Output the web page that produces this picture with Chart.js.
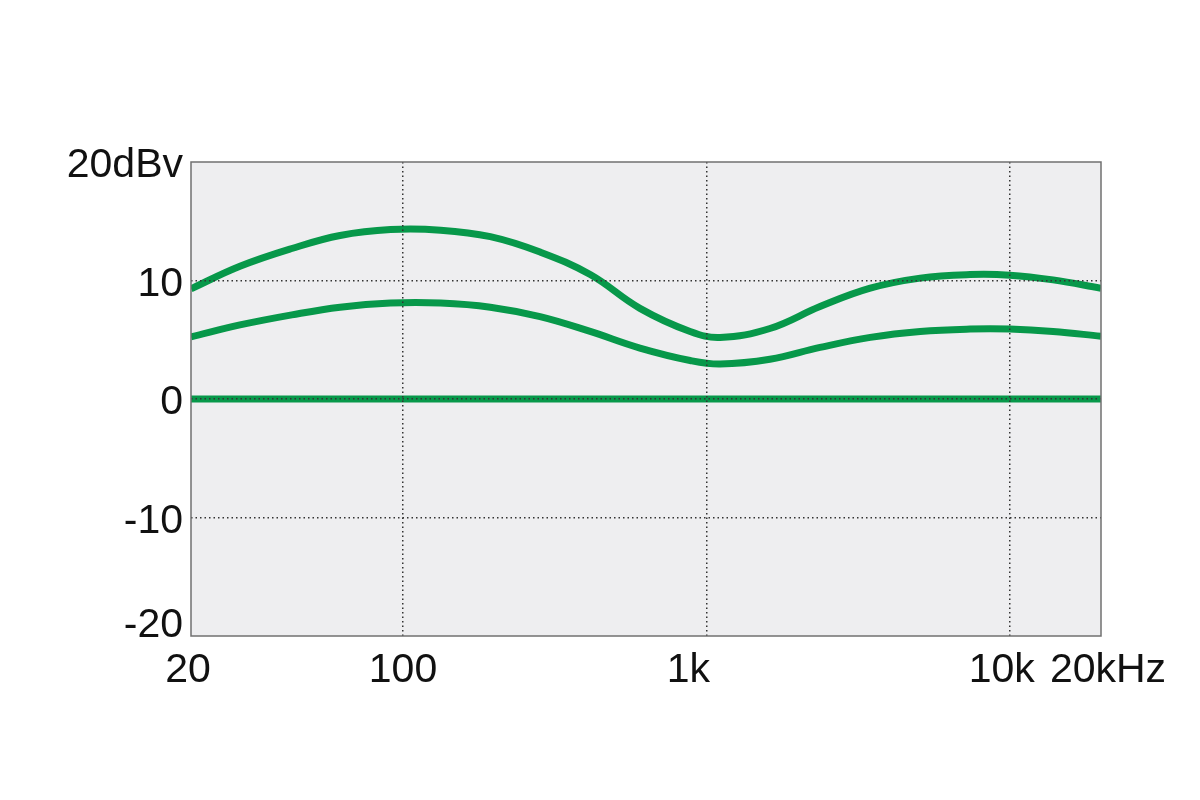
<!DOCTYPE html>
<html>
<head>
<meta charset="utf-8">
<title>Frequency response</title>
<script src="https://cdn.jsdelivr.net/npm/chart.js@4/dist/chart.umd.min.js"></script>
<style>
  html, body { margin: 0; padding: 0; background: #fff; }
  #wrap { width: 1200px; height: 800px; }
</style>
</head>
<body>
<div id="wrap"><canvas id="myChart" width="1200" height="800"></canvas></div>
<script>
const freqs = [20, 29, 43, 62, 91, 133, 194, 283, 414, 604, 884, 1110, 1620, 2370, 3470, 5070, 7400, 10000, 13900, 20000];
const upper = [9.3, 11.2, 12.7, 13.8, 14.3, 14.25, 13.7, 12.4, 10.5, 7.65, 5.7, 5.2, 5.95, 7.8, 9.35, 10.2, 10.5, 10.45, 10.05, 9.35];
const lower = [5.25, 6.25, 7.1, 7.75, 8.1, 8.1, 7.75, 6.95, 5.7, 4.3, 3.25, 2.95, 3.35, 4.35, 5.2, 5.7, 5.9, 5.9, 5.7, 5.3];
const flatFreqs = [20, 20000];
const flat = [0, 0];

const xTicks = [20, 100, 1000, 10000, 20000];
const xLabels = ["20", "100", "1k", "10k", "20kHz"];
const yTicks = [-20, -10, 0, 10, 20];
const yLabels = ["-20", "-10", "0", "10", "20dBv"];

// small nudges of the tick labels, in px (styling only)
const xNudge = { "20": -3, "1k": -18, "10k": -8, "20kHz": 7 };
const yNudge = { "-20": -14 };

const green = "#07984a";
const labelFont = { family: "'Liberation Sans', Arial, Helvetica, sans-serif", size: 41 };

function toPoints(xs, ys) {
  return xs.map((x, i) => ({ x, y: ys[i] }));
}

// light panel behind the plot and a thin frame round it
const panel = {
  id: "panel",
  beforeDraw(chart) {
    const { ctx, chartArea: a } = chart;
    ctx.save();
    ctx.fillStyle = "#eeeef0";
    ctx.fillRect(a.left, a.top, a.right - a.left, a.bottom - a.top);
    ctx.restore();

    chart.scales.x.getLabelItems(a).forEach((item) => {
      const dx = xNudge[item.label];
      if (dx && !item.nudged) { item.options.translation[0] += dx; item.nudged = true; }
    });
    chart.scales.y.getLabelItems(a).forEach((item) => {
      const dy = yNudge[item.label];
      if (dy && !item.nudged) { item.options.translation[1] += dy; item.nudged = true; }
    });
  },
  afterDraw(chart) {
    const { ctx, chartArea: a } = chart;
    ctx.save();
    ctx.strokeStyle = "#707070";
    ctx.lineWidth = 1.5;
    ctx.strokeRect(a.left, a.top, a.right - a.left, a.bottom - a.top);
    ctx.restore();
  }
};

function line(data) {
  return {
    data,
    borderColor: green,
    borderWidth: 7,
    pointRadius: 0,
    fill: false,
    tension: 0.4
  };
}

new Chart(document.getElementById("myChart"), {
  type: "line",
  data: {
    datasets: [
      line(toPoints(flatFreqs, flat)),
      line(toPoints(freqs, lower)),
      line(toPoints(freqs, upper))
    ]
  },
  options: {
    responsive: false,
    animation: false,
    layout: { padding: { left: 0, top: 162, right: 99, bottom: 0 } },
    plugins: { legend: { display: false }, tooltip: { enabled: false } },
    scales: {
      x: {
        type: "logarithmic",
        min: 20,
        max: 20000,
        afterBuildTicks: (scale) => { scale.ticks = xTicks.map((v) => ({ value: v })); },
        afterFit: (scale) => { scale.height = 800 - 636; },
        border: { display: false, dash: [1.5, 3] },
        grid: {
          z: 1,
          drawTicks: false,
          lineWidth: 1.5,
          color: (c) => (c.tick && (c.tick.value === 20 || c.tick.value === 20000)) ? "rgba(0,0,0,0)" : "#333"
        },
        ticks: {
          autoSkip: false,
          maxRotation: 0,
          padding: 10,
          color: "#111",
          font: labelFont,
          callback: (v) => xLabels[xTicks.indexOf(v)]
        }
      },
      y: {
        min: -20,
        max: 20,
        afterBuildTicks: (scale) => { scale.ticks = yTicks.map((v) => ({ value: v })); },
        afterFit: (scale) => { scale.width = 191; },
        border: { display: false, dash: [1.5, 3] },
        grid: {
          z: 1,
          drawTicks: false,
          lineWidth: 1.5,
          color: (c) => (c.tick && Math.abs(c.tick.value) === 20) ? "rgba(0,0,0,0)" : "#333"
        },
        ticks: {
          padding: 8,
          labelOffset: 4,
          color: "#111",
          font: labelFont,
          callback: (v) => yLabels[yTicks.indexOf(v)]
        }
      }
    }
  },
  plugins: [panel]
});
</script>
</body>
</html>
